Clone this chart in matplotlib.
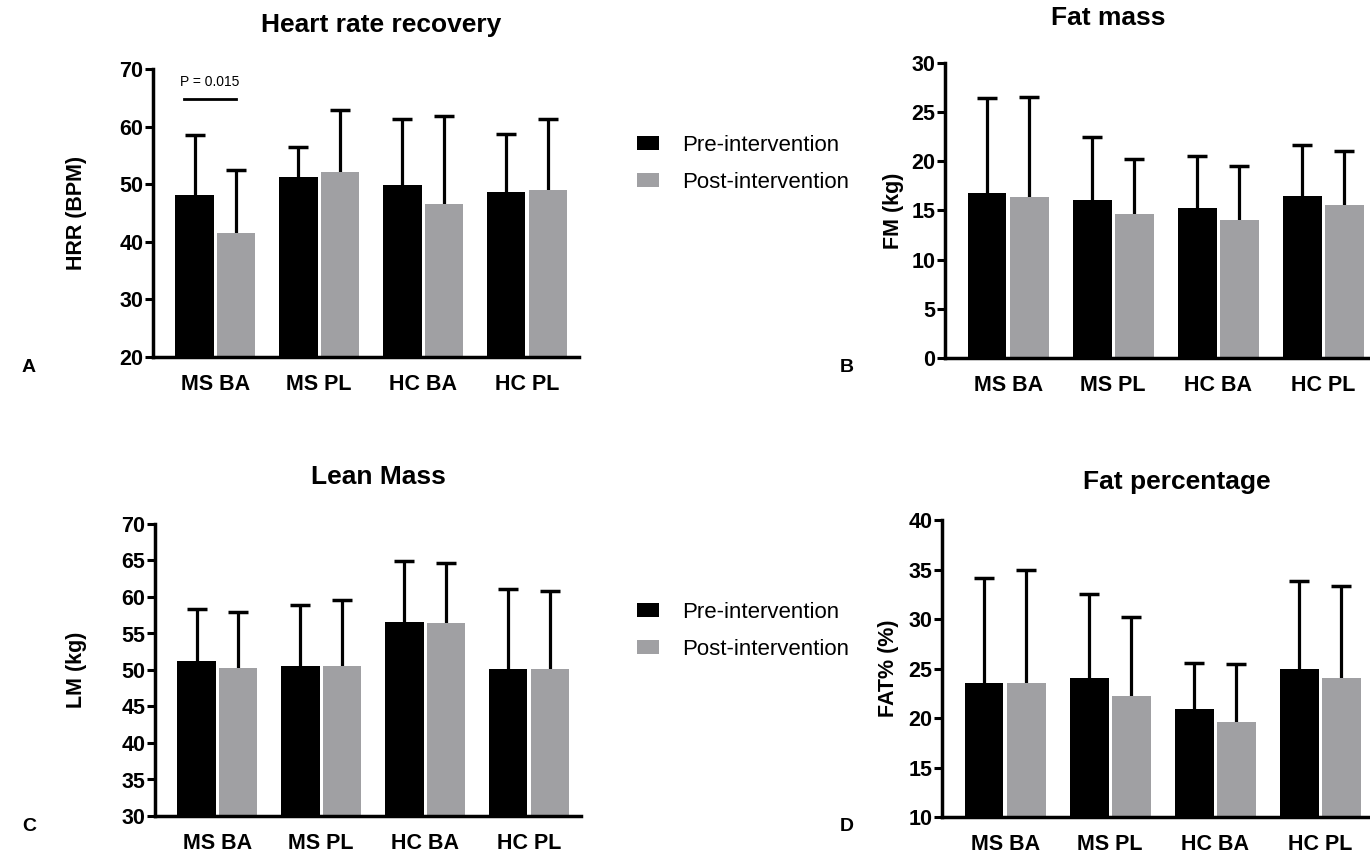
import numpy as np
import matplotlib
matplotlib.use("Agg")
import matplotlib.pyplot as plt
from matplotlib.patches import Patch

plt.rcParams['font.family'] = ['Liberation Sans', 'DejaVu Sans']

groups = ["MS BA", "MS PL", "HC BA", "HC PL"]
series = ["Pre-intervention", "Post-intervention"]
colors = ["#000000", "#a0a0a3"]

# Heart rate recovery (BPM): means and upper error bar ends
hrr_pre = [48.1, 51.3, 49.8, 48.7]
hrr_pre_top = [58.5, 56.4, 61.4, 58.7]
hrr_post = [41.5, 52.2, 46.6, 49.0]
hrr_post_top = [52.4, 62.9, 61.8, 61.4]

# Fat mass (kg)
fm_pre = [16.8, 16.1, 15.3, 16.5]
fm_pre_top = [26.4, 22.5, 20.5, 21.7]
fm_post = [16.4, 14.6, 14.0, 15.6]
fm_post_top = [26.5, 20.2, 19.5, 21.1]

# Lean mass (kg)
lm_pre = [51.3, 50.5, 56.6, 50.2]
lm_pre_top = [58.4, 58.9, 64.9, 61.1]
lm_post = [50.3, 50.6, 56.5, 50.1]
lm_post_top = [57.9, 59.6, 64.6, 60.8]

# Fat percentage (%)
fat_pre = [23.55, 24.0, 20.9, 25.0]
fat_pre_top = [34.1, 32.5, 25.6, 33.8]
fat_post = [23.5, 22.2, 19.6, 24.0]
fat_post_top = [35.0, 30.2, 25.5, 33.3]

W, H = 1370, 855
fig = plt.figure(figsize=(W / 100, H / 100), dpi=100)


def px_axes(left, top, right, bottom):
    return fig.add_axes([left / W, 1 - bottom / H, (right - left) / W, (bottom - top) / H])


panels = [
    dict(box=(153, 69, 579, 357), title="Heart rate recovery", title_xy=(381, 25), ylabel="HRR (BPM)",
         ylim=(20, 70), step=10, pre=hrr_pre, pre_top=hrr_pre_top,
         post=hrr_post, post_top=hrr_post_top, letter="A", letter_xy=(22, 368), lab_off=66),
    dict(box=(945, 63, 1376, 358), title="Fat mass", title_xy=(1108, 18), ylabel="FM (kg)",
         ylim=(0, 30), step=5, pre=fm_pre, pre_top=fm_pre_top,
         post=fm_post, post_top=fm_post_top, letter="B", letter_xy=(840, 368), lab_off=41),
    dict(box=(155, 524, 581, 816), title="Lean Mass", title_xy=(378, 477), ylabel="LM (kg)",
         ylim=(30, 70), step=5, pre=lm_pre, pre_top=lm_pre_top,
         post=lm_post, post_top=lm_post_top, letter="C", letter_xy=(22, 826), lab_off=68),
    dict(box=(942, 520, 1373, 817), title="Fat percentage", title_xy=(1177, 482), ylabel="FAT% (%)",
         ylim=(10, 40), step=5, pre=fat_pre, pre_top=fat_pre_top,
         post=fat_post, post_top=fat_post_top, letter="D", letter_xy=(840, 826), lab_off=43),
]

x = np.arange(len(groups))
bw = 0.37
off = 0.2
axes = []
for p in panels:
    ax = px_axes(*p["box"])
    axes.append(ax)
    for k, (vals, tops) in enumerate([(p["pre"], p["pre_top"]), (p["post"], p["post_top"])]):
        xs = x + (k * 2 - 1) * off
        ax.bar(xs, vals, width=bw, color=colors[k], zorder=2)
        # upper-only error bars
        ax.vlines(xs, vals, tops, color="black", lw=2.3, zorder=1)
        ax.plot(xs, tops, ls="none", marker="_", ms=14, mew=2.5, color="black", zorder=1)
    ax.set_xlim(-0.6, 3.5)
    ax.set_ylim(*p["ylim"])
    ax.set_yticks(np.arange(p["ylim"][0], p["ylim"][1] + 0.1, p["step"]))
    ax.set_xticks(x)
    ax.set_xticklabels(groups, fontsize=15.5, fontweight="bold")
    for lab in ax.get_yticklabels():
        lab.set_fontsize(15.5)
        lab.set_fontweight("bold")
    ax.tick_params(axis="x", length=0, pad=12)
    ax.tick_params(axis="y", length=6, width=2.2, pad=1, direction="out")
    for s in ["top", "right"]:
        ax.spines[s].set_visible(False)
    for s in ["left", "bottom"]:
        ax.spines[s].set_linewidth(2.5)
    ax.set_ylabel(p["ylabel"], fontsize=15.5, fontweight="bold")
    width_px = p["box"][2] - p["box"][0]
    ax.yaxis.set_label_coords(-p["lab_off"] / width_px, 0.5)
    fig.text(p["title_xy"][0] / W, 1 - p["title_xy"][1] / H, p["title"],
             fontsize=19, fontweight="bold", ha="center", va="center")
    fig.text(p["letter_xy"][0] / W, 1 - p["letter_xy"][1] / H, p["letter"],
             fontsize=14, fontweight="bold", ha="left", va="center")

# significance bar on panel A
axA = axes[0]
axA.plot([-0.3, 0.2], [64.8, 64.8], color="black", lw=2, clip_on=False)
axA.text(-0.05, 66.6, "P = 0.015", fontsize=10, ha="center", va="bottom")

handles = [Patch(facecolor=colors[0]), Patch(facecolor=colors[1])]
for ypix in (119, 586):
    fig.legend(handles, series, loc="upper left", bbox_to_anchor=(621 / W, 1 - ypix / H),
               frameon=False, fontsize=16, handlelength=1.0, handleheight=0.6,
               handletextpad=1.05, labelspacing=0.72, borderpad=0.2)

fig.savefig("out.png", dpi=100)
